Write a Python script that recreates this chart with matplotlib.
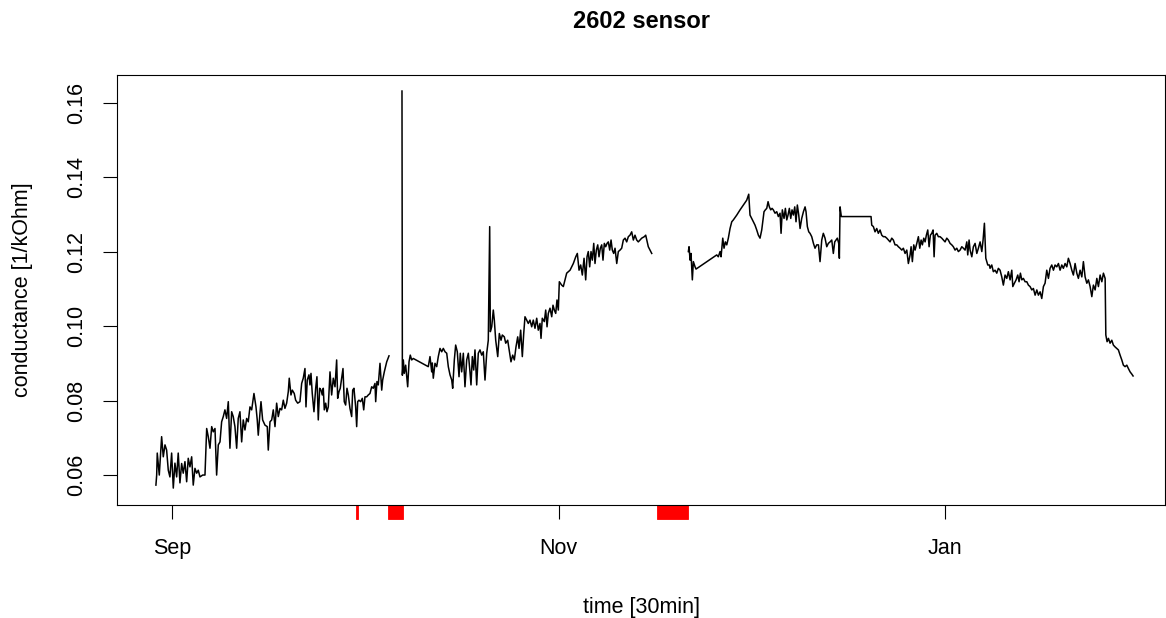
import numpy as np
import matplotlib
matplotlib.use("Agg")
import matplotlib.pyplot as plt
from matplotlib.patches import Rectangle

plt.rcParams.update({"font.family": ["Liberation Sans", "DejaVu Sans"]})

# conductance trace of sensor 2602, x = days since 1 Sep
seg1_day = [
    -2.53, -2.41, -2.32, -2.00, -1.63, -1.37, -1.10, -0.84, -0.58, -0.32,
    -0.05, 0.21, 0.47, 0.74, 0.99, 1.26, 1.53, 1.78, 2.05, 2.32,
    2.57, 2.84, 3.11, 3.36, 3.63, 3.90, 4.15, 4.42, 4.85, 5.21,
    5.48, 5.73, 6.00, 6.27, 6.52, 6.79, 7.05, 7.31, 7.58, 7.84,
    8.10, 8.36, 8.63, 8.89, 9.15, 9.42, 9.67, 9.94, 10.21, 10.46,
    10.73, 11.00, 11.25, 11.52, 11.79, 12.04, 12.31, 12.58, 12.94, 13.26,
    13.46, 13.62, 13.89, 14.05, 14.31, 14.68, 15.04, 15.20, 15.47, 15.74,
    15.99, 16.26, 16.52, 16.78, 17.05, 17.31, 17.57, 17.83, 18.10, 18.36, 18.51,
    18.78, 18.99, 19.30, 19.52, 19.84, 20.20, 20.47, 20.72, 20.99, 21.15,
    21.35, 21.62, 21.78, 21.94, 22.14, 22.41, 22.68, 22.88, 23.09, 23.31,
    23.52, 23.72, 23.88, 24.04, 24.26, 24.46, 24.67, 24.94, 25.20, 25.46,
    25.73, 25.99, 26.15, 26.36, 26.56, 26.78, 26.99, 27.19, 27.41, 27.62,
    27.83, 28.09, 28.36, 28.52, 28.72, 28.99, 29.15, 29.31, 29.51, 29.78,
    30.04, 30.26, 30.46, 30.73, 30.98, 31.25, 31.52, 31.77, 32.04, 32.15,
    32.35, 32.56, 32.83, 33.10, 33.25, 33.51, 33.89, 34.25,
]
seg1_cond = [
    0.0573, 0.0600, 0.0659, 0.0600, 0.0703, 0.0649, 0.0681, 0.0667, 0.0613, 0.0595,
    0.0659, 0.0565, 0.0632, 0.0595, 0.0659, 0.0579, 0.0631, 0.0605, 0.0636, 0.0582,
    0.0645, 0.0622, 0.0649, 0.0573, 0.0618, 0.0605, 0.0613, 0.0595, 0.0600, 0.0600,
    0.0725, 0.0703, 0.0672, 0.0730, 0.0716, 0.0725, 0.0600, 0.0681, 0.0689, 0.0743,
    0.0757, 0.0775, 0.0752, 0.0797, 0.0672, 0.0770, 0.0757, 0.0730, 0.0672, 0.0752,
    0.0770, 0.0689, 0.0748, 0.0721, 0.0752, 0.0743, 0.0783, 0.0775, 0.0819, 0.0783,
    0.0748, 0.0707, 0.0766, 0.0797, 0.0748, 0.0734, 0.0730, 0.0667, 0.0743, 0.0748,
    0.0775, 0.0730, 0.0793, 0.0757, 0.0779, 0.0775, 0.0801, 0.0779, 0.0793, 0.0824, 0.0860,
    0.0815, 0.0828, 0.0819, 0.0801, 0.0793, 0.0797, 0.0846, 0.0860, 0.0886, 0.0783,
    0.0855, 0.0869, 0.0842, 0.0873, 0.0819, 0.0770, 0.0833, 0.0864, 0.0748, 0.0833,
    0.0828, 0.0815, 0.0833, 0.0775, 0.0793, 0.0770, 0.0783, 0.0877, 0.0815, 0.0860,
    0.0837, 0.0909, 0.0806, 0.0824, 0.0833, 0.0860, 0.0886, 0.0797, 0.0788, 0.0833,
    0.0815, 0.0779, 0.0757, 0.0828, 0.0833, 0.0783, 0.0730, 0.0797, 0.0801, 0.0797,
    0.0806, 0.0775, 0.0810, 0.0810, 0.0815, 0.0819, 0.0837, 0.0833, 0.0846, 0.0797,
    0.0851, 0.0842, 0.0900, 0.0828, 0.0855, 0.0877, 0.0904, 0.0920,
]

seg2_day = [
    36.30, 36.36, 36.51, 36.66, 36.88, 37.20, 37.41, 37.61, 37.83, 38.08,
    40.45, 40.72, 40.99, 41.08, 41.24, 41.51, 41.78, 42.03, 42.30, 42.57,
    42.82, 43.09, 43.36, 43.61, 43.88, 44.15, 44.30, 44.56, 44.77, 45.03,
    45.30, 45.50, 45.72, 45.98, 46.24, 46.51, 46.77, 47.03, 47.19, 47.40,
    47.62, 47.82, 48.09, 48.34, 48.61, 48.88, 49.13, 49.40, 49.67, 49.92,
    50.14, 50.24, 50.46, 50.71, 50.87, 51.09, 51.41, 51.66, 51.93, 52.13,
    52.45, 52.67, 52.98, 53.30, 53.50, 53.77, 54.03, 54.29, 54.56, 54.77,
    55.03, 55.29, 55.51, 55.71, 55.98, 56.23, 56.50, 56.77, 57.02, 57.29,
    57.56, 57.81, 58.08, 58.24, 58.44, 58.76, 58.98, 59.19, 59.39, 59.66,
    59.93, 60.13, 60.34, 60.56, 60.76, 60.97, 61.13, 61.50, 61.76, 62.29,
    62.55, 62.82, 63.34, 63.72, 63.97, 64.24, 64.50, 64.76, 65.03, 65.29,
    65.50, 65.70, 65.92, 66.13, 66.34, 66.56, 66.76, 66.97, 67.19, 67.39,
    67.60, 67.82, 68.02, 68.23, 68.45, 68.66, 68.86, 69.08, 69.29, 69.49,
    69.71, 69.92, 70.19, 70.44, 70.71, 70.97, 71.23, 71.50, 71.76, 72.02,
    72.28, 72.55, 72.81, 73.07, 73.34, 73.59, 73.86, 74.13, 74.54, 74.76,
    75.17, 75.44, 75.71,
]
seg2_cond = [
    0.1631, 0.0868, 0.0909, 0.0873, 0.0895, 0.0837, 0.0904, 0.0922, 0.0909, 0.0913,
    0.0891, 0.0918, 0.0877, 0.0901, 0.0860, 0.0900, 0.0891, 0.0918, 0.0940, 0.0931,
    0.0940, 0.0931, 0.0927, 0.0891, 0.0869, 0.0855, 0.0833, 0.0909, 0.0949, 0.0931,
    0.0864, 0.0927, 0.0877, 0.0927, 0.0837, 0.0909, 0.0927, 0.0877, 0.0842, 0.0918,
    0.0882, 0.0936, 0.0842, 0.0927, 0.0936, 0.0922, 0.0931, 0.0855, 0.0927, 0.0962,
    0.1267, 0.0985, 0.0998, 0.1043, 0.1016, 0.0962, 0.0918, 0.0980, 0.0962, 0.0976,
    0.0971, 0.0954, 0.0962, 0.0927, 0.0904, 0.0922, 0.0909, 0.0944, 0.0971, 0.0940,
    0.0989, 0.0918, 0.0980, 0.1025, 0.1016, 0.1007, 0.1016, 0.0998, 0.1016, 0.0994,
    0.1021, 0.0989, 0.1007, 0.0967, 0.1021, 0.1012, 0.1043, 0.0998, 0.1034, 0.1048,
    0.1025, 0.1056, 0.1043, 0.1034, 0.1070, 0.1043, 0.1119, 0.1110, 0.1106, 0.1142,
    0.1146, 0.1150, 0.1168, 0.1186, 0.1195, 0.1150, 0.1164, 0.1137, 0.1182, 0.1124,
    0.1186, 0.1200, 0.1159, 0.1200, 0.1177, 0.1222, 0.1168, 0.1204, 0.1218, 0.1186,
    0.1209, 0.1218, 0.1177, 0.1222, 0.1213, 0.1222, 0.1226, 0.1204, 0.1231, 0.1204,
    0.1195, 0.1209, 0.1168, 0.1200, 0.1204, 0.1209, 0.1231, 0.1236, 0.1226, 0.1240,
    0.1244, 0.1253, 0.1231, 0.1244, 0.1231, 0.1226, 0.1231, 0.1236, 0.1240, 0.1244,
    0.1213, 0.1204, 0.1195,
]

seg3_day = [
    81.49, 81.60, 81.76, 81.91, 82.12, 82.28, 82.55, 82.70, 85.97, 86.22,
    86.49, 86.65, 86.92, 87.12, 87.33, 87.55, 87.80, 88.07, 88.34, 88.59,
    89.13, 89.65, 90.17, 90.70, 91.02, 91.22, 91.49, 91.75, 92.01, 92.28,
    92.54, 92.80, 93.07, 93.23, 93.43, 93.64, 93.86, 94.07, 94.27, 94.49,
    94.70, 94.90, 95.17, 95.44, 95.69, 95.96, 96.12, 96.32, 96.59, 96.80,
    97.02, 97.22, 97.43, 97.65, 97.85, 98.06, 98.28, 98.48, 98.69, 98.91,
    99.12, 99.38, 99.65, 99.91, 100.06, 100.27, 100.49, 100.69, 100.96, 101.23,
    101.48, 101.75, 102.02, 102.27, 102.54, 102.79, 103.06, 103.33, 103.58, 103.85,
    104.12, 104.37, 104.59, 104.80, 105.00, 105.22, 105.32, 105.43, 105.63, 105.95,
    110.32, 110.43, 110.69, 110.95, 111.22, 111.47, 111.74, 112.01, 112.26, 112.53,
    112.80, 113.05, 113.32, 113.59, 113.84, 114.11, 114.38, 114.63, 114.90, 115.17,
    115.42, 115.69, 115.96, 116.21, 116.48, 116.64, 116.84, 117.06, 117.27, 117.54,
    117.79, 118.01, 118.22, 118.42, 118.64, 118.85, 119.05, 119.27, 119.48, 119.68,
    119.90, 120.11, 120.27, 120.42, 120.69, 120.94, 121.21, 121.48, 121.73, 122.00,
    122.27, 122.52, 122.79, 123.06, 123.31, 123.58, 123.85, 124.10, 124.37, 124.64,
    124.89, 125.16, 125.43, 125.58, 125.79, 125.95, 126.22, 126.47, 126.74, 127.01,
    127.26, 127.53, 127.80, 128.00, 128.21, 128.43, 128.74, 128.99, 129.10, 129.37,
    129.62, 129.89, 130.16, 130.41, 130.68, 130.95, 131.20, 131.47, 131.74, 131.99,
    132.26, 132.53, 132.69, 132.94, 133.21, 133.47, 133.68, 133.89, 134.11, 134.36,
    134.63, 134.90, 135.15, 135.42, 135.69, 135.94, 136.21, 136.48, 136.73, 137.00,
    137.26, 137.52, 137.78, 138.05, 138.31, 138.57, 138.84, 139.10, 139.36, 139.63,
    139.89, 140.15, 140.42, 140.67, 140.94, 141.21, 141.46, 141.73, 142.00, 142.25,
    142.52, 142.79, 143.04, 143.31, 143.58, 143.83, 144.10, 144.37, 144.62, 144.89,
    145.16, 145.41, 145.68, 145.95, 146.20, 146.47, 146.74, 146.99, 147.26, 147.37,
    147.57, 147.78, 148.04, 148.31, 148.56, 148.83, 149.10, 149.35, 149.62, 149.89,
    150.14, 150.41, 150.68, 150.93, 151.20, 151.47, 151.67,
]
seg3_cond = [
    0.1200, 0.1213, 0.1177, 0.1195, 0.1124, 0.1173, 0.1159, 0.1153, 0.1191, 0.1186,
    0.1200, 0.1186, 0.1236, 0.1209, 0.1226, 0.1218, 0.1236, 0.1262, 0.1280, 0.1285,
    0.1298, 0.1312, 0.1325, 0.1338, 0.1354, 0.1298, 0.1289, 0.1280, 0.1271, 0.1258,
    0.1244, 0.1236, 0.1258, 0.1280, 0.1307, 0.1312, 0.1316, 0.1334, 0.1320, 0.1312,
    0.1316, 0.1312, 0.1303, 0.1307, 0.1294, 0.1303, 0.1249, 0.1312, 0.1289, 0.1316,
    0.1285, 0.1298, 0.1316, 0.1289, 0.1312, 0.1298, 0.1320, 0.1280, 0.1325, 0.1298,
    0.1262, 0.1289, 0.1307, 0.1320, 0.1307, 0.1267, 0.1253, 0.1249, 0.1240, 0.1222,
    0.1209, 0.1218, 0.1218, 0.1173, 0.1231, 0.1249, 0.1236, 0.1213, 0.1222, 0.1226,
    0.1231, 0.1195, 0.1226, 0.1231, 0.1236, 0.1222, 0.1182, 0.1320, 0.1294, 0.1294,
    0.1294, 0.1271, 0.1267, 0.1253, 0.1262, 0.1249, 0.1258, 0.1244, 0.1240, 0.1240,
    0.1236, 0.1231, 0.1226, 0.1236, 0.1231, 0.1218, 0.1218, 0.1213, 0.1209, 0.1204,
    0.1209, 0.1195, 0.1204, 0.1168, 0.1191, 0.1213, 0.1173, 0.1218, 0.1204, 0.1222,
    0.1240, 0.1209, 0.1231, 0.1218, 0.1236, 0.1226, 0.1244, 0.1258, 0.1213, 0.1244,
    0.1249, 0.1258, 0.1186, 0.1244, 0.1249, 0.1240, 0.1240, 0.1236, 0.1231, 0.1226,
    0.1236, 0.1231, 0.1222, 0.1218, 0.1213, 0.1204, 0.1209, 0.1200, 0.1204, 0.1213,
    0.1209, 0.1204, 0.1226, 0.1191, 0.1231, 0.1204, 0.1186, 0.1213, 0.1222, 0.1195,
    0.1209, 0.1226, 0.1200, 0.1231, 0.1276, 0.1182, 0.1164, 0.1164, 0.1155, 0.1164,
    0.1146, 0.1150, 0.1142, 0.1155, 0.1150, 0.1132, 0.1110, 0.1137, 0.1128, 0.1146,
    0.1124, 0.1150, 0.1106, 0.1115, 0.1124, 0.1137, 0.1119, 0.1142, 0.1124, 0.1128,
    0.1119, 0.1119, 0.1110, 0.1106, 0.1097, 0.1101, 0.1083, 0.1097, 0.1083, 0.1092,
    0.1074, 0.1106, 0.1115, 0.1150, 0.1128, 0.1155, 0.1164, 0.1150, 0.1164, 0.1159,
    0.1168, 0.1150, 0.1164, 0.1155, 0.1168, 0.1159, 0.1182, 0.1168, 0.1150, 0.1137,
    0.1168, 0.1142, 0.1128, 0.1150, 0.1132, 0.1173, 0.1132, 0.1115, 0.1124, 0.1106,
    0.1079, 0.1110, 0.1097, 0.1128, 0.1106, 0.1137, 0.1119, 0.1142, 0.1128, 0.0976,
    0.0958, 0.0967, 0.0954, 0.0962, 0.0949, 0.0944, 0.0940, 0.0936, 0.0922, 0.0909,
    0.0895, 0.0891, 0.0895, 0.0886, 0.0877, 0.0871, 0.0866,
]

# missing-data periods (days since 1 Sep), marked under the time axis
gap_start = [29.10, 34.10, 76.60]
gap_end = [29.30, 36.40, 81.40]

month_day = [0, 61, 122]
month_lab = ["Sep", "Nov", "Jan"]
cond_ticks = [0.06, 0.08, 0.10, 0.12, 0.14, 0.16]

fig = plt.figure(figsize=(11.66, 6.18), dpi=100)
ax = fig.add_axes([0.1003, 0.1828, 0.8988, 0.6958])

# NaN between segments so the line breaks at the gaps
day = np.concatenate([seg1_day, [np.nan], seg2_day, [np.nan], seg3_day])
cond = np.concatenate([seg1_cond, [np.nan], seg2_cond, [np.nan], seg3_cond])
ax.plot(day, cond, color="black", lw=1.1)

ax.set_xlim(-8.68, 156.7)
ax.set_ylim(0.05195, 0.1674)

tick_len = 10
for s, e in zip(gap_start, gap_end):
    ax.add_patch(Rectangle((s, 0), e - s, -0.0326, transform=ax.get_xaxis_transform(),
                           facecolor="#ff0000", edgecolor="#ff0000", lw=0.6, clip_on=False))

fs = 15.5
ax.set_xticks(month_day)
ax.set_xticklabels(month_lab)
ax.set_yticks(cond_ticks)
ax.set_yticklabels([f"{v:.2f}" for v in cond_ticks], rotation=90, va="center")
ax.tick_params(direction="out", length=tick_len, width=0.8, labelsize=fs, color="black")
ax.tick_params(axis="x", pad=13.5)
ax.tick_params(axis="y", pad=11.5)
for sp in ax.spines.values():
    sp.set_linewidth(0.8)

fig.text(0.5503, 1 - 21 / 618, "2602 sensor", ha="center", va="center",
         fontsize=17, fontweight="bold")
fig.text(0.5503, 1 - 607 / 618, "time [30min]", ha="center", va="center", fontsize=fs)
fig.text(23 / 1166, 1 - 290 / 618, "conductance [1/kOhm]", ha="center", va="center",
         rotation=90, fontsize=fs)

fig.savefig("out.png", dpi=100)
